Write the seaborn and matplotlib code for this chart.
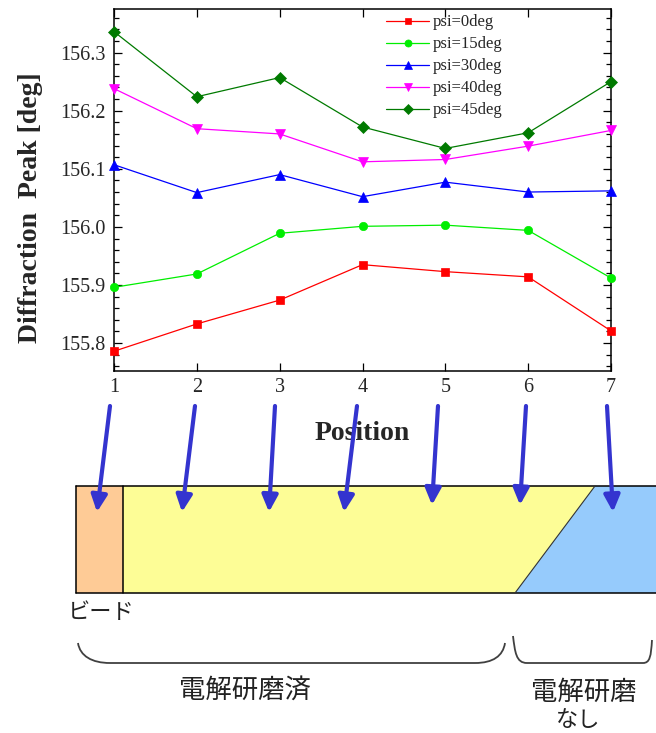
import matplotlib
matplotlib.use("Agg")
import matplotlib.pyplot as plt
from matplotlib.ticker import MultipleLocator, FormatStrFormatter
from matplotlib.patches import Polygon, PathPatch
from matplotlib.path import Path
import seaborn as sns

# Measured diffraction peak positions along the weld specimen
positions = [1, 2, 3, 4, 5, 6, 7]
psi_0 = [155.786, 155.833, 155.874, 155.935, 155.923, 155.914, 155.821]
psi_15 = [155.896, 155.919, 155.989, 156.001, 156.003, 155.994, 155.912]
psi_30 = [156.107, 156.059, 156.090, 156.052, 156.077, 156.060, 156.062]
psi_40 = [156.238, 156.169, 156.160, 156.112, 156.116, 156.139, 156.166]
psi_45 = [156.336, 156.224, 156.257, 156.172, 156.135, 156.162, 156.250]

series_labels = ["psi=0deg", "psi=15deg", "psi=30deg", "psi=40deg", "psi=45deg"]
y_ticks = [155.8, 155.9, 156.0, 156.1, 156.2, 156.3]

sns.set_theme(style="ticks")
plt.rcParams["font.family"] = ["Liberation Serif", "DejaVu Serif"]
CJK = ["Noto Sans CJK JP", "DejaVu Sans"]

W, H = 656, 733
fig = plt.figure(figsize=(W / 100, H / 100), dpi=100)
ax = fig.add_axes([114 / W, 1 - 371 / H, (611 - 114) / W, (371 - 9) / H])

styles = [
    ("#ff0000", "s", 5.5),
    ("#00ee00", "o", 6.0),
    ("#0000ff", "^", 7.0),
    ("#ff00ff", "v", 7.0),
    ("#007a00", "D", 6.5),
]
for vals, label, (color, marker, ms) in zip(
    [psi_0, psi_15, psi_30, psi_40, psi_45], series_labels, styles
):
    sns.lineplot(
        x=positions, y=vals, ax=ax, color=color, marker=marker,
        markersize=ms, markeredgecolor=color, markeredgewidth=0.5,
        linewidth=0.9, label=label, clip_on=False, zorder=3,
    )

ax.set_xlim(1, 7)
ax.set_ylim(155.752, 156.375)
ax.set_xticks(positions)
ax.set_yticks(y_ticks)
ax.yaxis.set_major_formatter(FormatStrFormatter("%.1f"))
ax.yaxis.set_minor_locator(MultipleLocator(0.02))
ax.tick_params(which="both", direction="in", top=True, right=True,
               color="black", width=0.9)
ax.tick_params(which="major", length=6, labelsize=14.5, pad=6)
ax.tick_params(which="minor", length=3.5)
ax.tick_params(axis="x", pad=5)
for s in ax.spines.values():
    s.set_linewidth(1.1)
    s.set_color("black")

ax.set_ylabel("Diffraction  Peak [deg]", fontsize=20, fontweight="bold")
ax.yaxis.label.set_va("baseline")
ax.yaxis.set_label_coords(-0.155, 0.45)
ax.set_xlabel("Position", fontsize=20, fontweight="bold")
ax.xaxis.label.set_va("baseline")
ax.xaxis.set_label_coords(0.5, -0.1906)

leg = ax.legend(loc="upper left", bbox_to_anchor=(0.547, 0.985), frameon=False,
                fontsize=12, handlelength=2.6, handletextpad=0.2,
                labelspacing=0.36, borderpad=0, borderaxespad=0)
for h in leg.legend_handles:
    h.set_markersize(h.get_markersize() * 0.85)

# Specimen sketch beneath the chart (pixel coordinates)
ov = fig.add_axes([0, 0, 1, 1])
ov.set_xlim(0, W)
ov.set_ylim(H, 0)
ov.axis("off")
ov.set_zorder(3)

top, bot = 486, 593
ov.add_patch(Polygon([(76, top), (123, top), (123, bot), (76, bot)],
                     closed=True, facecolor="#fecb96", edgecolor="none"))
ov.add_patch(Polygon([(123, top), (595, top), (515, bot), (123, bot)],
                     closed=True, facecolor="#fdfd96", edgecolor="none"))
ov.add_patch(Polygon([(595, top), (660, top), (660, bot), (515, bot)],
                     closed=True, facecolor="#96cbfc", edgecolor="none"))
ov.plot([76, 660], [top, top], color="black", lw=1.1)
ov.plot([76, 660], [bot, bot], color="black", lw=1.1)
ov.plot([76, 76], [top, bot], color="black", lw=1.1)
ov.plot([123, 123], [top, bot], color="black", lw=1.1)
ov.plot([595, 515], [top, bot], color="#333333", lw=0.8)

arrow_start_x = [110, 195, 275, 357, 438, 526, 607]
arrow_tip = [(97, 512), (182, 512), (269, 512), (344, 512),
             (432, 505), (520, 505), (613, 512)]
for sx, tip in zip(arrow_start_x, arrow_tip):
    ov.annotate("", xy=tip, xytext=(sx, 406), xycoords="data",
                arrowprops=dict(arrowstyle="-|>,head_length=0.5,head_width=0.24",
                                color="#3434cf", lw=3.0, mutation_scale=20,
                                shrinkA=0, shrinkB=0))

# Brackets grouping the specimen zones
left_br = Path(
    [(78, 643), (80, 656), (92, 663), (110, 663), (475, 663),
     (493, 663), (503, 656), (505, 643)],
    [Path.MOVETO, Path.CURVE4, Path.CURVE4, Path.CURVE4, Path.LINETO,
     Path.CURVE4, Path.CURVE4, Path.CURVE4])
right_br = Path(
    [(513, 636), (515, 652), (516, 663), (527, 663), (643, 663),
     (650, 663), (651, 656), (652, 640)],
    [Path.MOVETO, Path.CURVE4, Path.CURVE4, Path.CURVE4, Path.LINETO,
     Path.CURVE4, Path.CURVE4, Path.CURVE4])
for p in (left_br, right_br):
    ov.add_patch(PathPatch(p, facecolor="none", edgecolor="#404040", lw=1.3))

ov.text(101, 612, "ビード", family=CJK, fontsize=16, ha="center", va="center",
        color="#222222")
ov.text(245, 690, "電解研磨済", family=CJK, fontsize=19, ha="center",
        va="center", color="#222222")
ov.text(584, 692, "電解研磨", family=CJK, fontsize=19, ha="center",
        va="center", color="#222222")
ov.text(578, 720, "なし", family=CJK, fontsize=16, ha="center",
        va="center", color="#222222")

fig.savefig("out.png", dpi=100)
